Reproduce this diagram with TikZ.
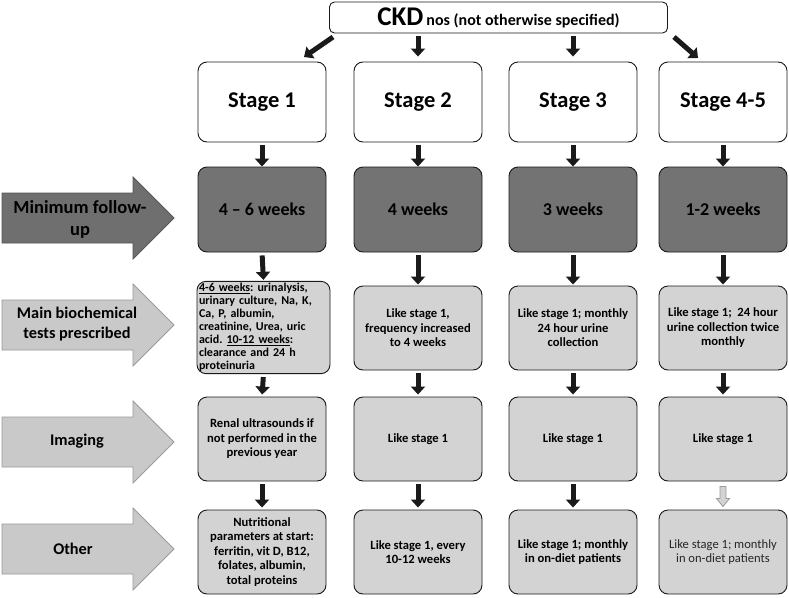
\documentclass[tikz,border=0pt]{standalone}
\usepackage{fontspec}
\setmainfont{Carlito}
\usetikzlibrary{arrows.meta}
\definecolor{darkbox}{HTML}{737373}
\definecolor{lightbox}{HTML}{D3D3D3}
\definecolor{lightarr}{HTML}{C9C9C9}
\definecolor{lightarrline}{HTML}{9A9A9A}
\definecolor{darkarr}{HTML}{6F6F6F}
\definecolor{darkarrline}{HTML}{555555}
\definecolor{ink}{HTML}{1A1A1A}
\definecolor{softtext}{HTML}{262626}
\newcommand{\sidearrow}[4]{%
  \filldraw[fill=#2, draw=#3, line width=0.8pt]
    (2,{#1-25}) -- (133,{#1-25}) -- (133,{#1-41}) -- (174,{#1}) --
    (133,{#1+41}) -- (133,{#1+25}) -- (2,{#1+25}) -- cycle;
}
\frenchspacing
\begin{document}
\begin{tikzpicture}[x=1pt,y=-1pt,
  box/.style={draw=ink, line width=0.9pt, rounded corners=9pt,
    minimum width=128pt, minimum height=84pt, align=center, inner sep=2pt,
    font=\bfseries\fontsize{12.6}{14.5}\selectfont},
  stagebox/.style={box, fill=white, minimum height=80pt,
    font=\bfseries\fontsize{22.5}{26}\selectfont},
  weekbox/.style={box, fill=darkbox, minimum height=85pt,
    font=\bfseries\fontsize{18}{20}\selectfont},
  testbox/.style={box, fill=lightbox},
  sidelabel/.style={align=center, font=\bfseries\fontsize{16.3}{20}\selectfont},
  blk/.style={draw=ink, line width=5pt, -{Triangle[width=14pt,length=8pt]},
    shorten <=3pt},
]
\useasboundingbox (0,0) rectangle (789,597);

% top box
\node[draw=ink, line width=0.9pt, rounded corners=5pt, fill=white,
  minimum width=338pt, minimum height=31pt, inner sep=0pt] (ckd) at (498.5,17.5)
  {\bfseries\fontsize{27}{28}\selectfont CKD\hspace{3pt}\fontsize{16}{18}\selectfont nos (not otherwise specified)};

% left arrows
\sidearrow{218}{darkarr}{darkarrline}{}
\sidearrow{325}{lightarr}{lightarrline}{}
\sidearrow{442}{lightarr}{lightarrline}{}
\sidearrow{549}{lightarr}{lightarrline}{}
\node[sidelabel, font=\bfseries\fontsize{18.5}{22}\selectfont] (l1) at (80,219) {Minimum follow-\\up};
\node[sidelabel] (l2) at (77,324) {Main biochemical\\tests prescribed};
\node[sidelabel] (l3) at (77,441) {Imaging};
\node[sidelabel] (l4) at (73,549) {Other};

% stage row
\node[stagebox] (s1) at (262,102) {Stage 1};
\node[stagebox] (s2) at (418,102) {Stage 2};
\node[stagebox] (s3) at (573,102) {Stage 3};
\node[stagebox] (s4) at (723,102) {Stage 4-5};

% follow-up row
\node[weekbox] (w1) at (262,209.5) {4 -- 6 weeks};
\node[weekbox] (w2) at (418,209.5) {4 weeks};
\node[weekbox] (w3) at (573,209.5) {3 weeks};
\node[weekbox] (w4) at (723,209.5) {1-2 weeks};

% tests row
\node[testbox, minimum width=133pt, minimum height=91pt, text width=129pt,
  align=left, font=\bfseries\fontsize{12}{13}\selectfont] (t1) at (263.5,327.5)
  {\underline{4-6 weeks}: urinalysis,\\urinary culture, Na, K,\\Ca, P, albumin,\\creatinine, Urea, uric\\acid. \underline{10-12 weeks}:\\clearance and 24 h\\proteinuria};
\node[testbox] (t2) at (418,328) {Like stage 1,\\frequency increased\\to 4 weeks};
\node[testbox] (t3) at (573,328) {Like stage 1; monthly\\24 hour urine\\collection};
\node[testbox] (t4) at (723,328) {Like stage 1;\ \ 24 hour\\urine collection twice\\monthly};

% imaging row
\node[testbox] (i1) at (262,439) {Renal ultrasounds if\\not performed in the\\previous year};
\node[testbox] (i2) at (418,439) {Like stage 1};
\node[testbox] (i3) at (573,439) {Like stage 1};
\node[testbox] (i4) at (723,439) {Like stage 1};

% other row
\node[testbox] (o1) at (262,552) {Nutritional\\parameters at start:\\ferritin, vit D, B12,\\folates, albumin,\\total proteins};
\node[testbox] (o2) at (418,552) {Like stage 1, every\\10-12 weeks};
\node[testbox] (o3) at (573,552) {Like stage 1; monthly\\in on-diet patients};
\node[testbox, font=\fontsize{12.6}{14.5}\selectfont, text=softtext] (o4) at (723,552) {Like stage 1; monthly\\in on-diet patients};

% top arrows
\coordinate (a1s) at (333,37);
\coordinate (a1e) at (304,57);
\coordinate (a4s) at (674,37);
\coordinate (a4e) at (698,58);
\draw[blk, shorten <=0pt] (a1s) -- (a1e);
\draw[blk, shorten >=5pt] (ckd.south -| s2.north) -- (s2.north);
\draw[blk, shorten >=5pt] (ckd.south -| s3.north) -- (s3.north);
\draw[blk, shorten <=0pt] (a4s) -- (a4e);

% column arrows
\foreach \c in {1,2,3,4}{
  \draw[blk] (s\c.south) -- (w\c.north);
  \draw[blk, shorten >=1pt] (w\c.south) -- (t\c.north);
}
\foreach \c in {1,2,3,4}{
  \draw[blk, shorten >=2pt] (t\c.south) -- (i\c.north);
}
\foreach \c in {1,2,3}{
  \draw[blk, shorten >=2pt] (i\c.south) -- (o\c.north);
}
% hollow gray arrow
\filldraw[fill=lightbox, draw=lightarrline, line width=0.8pt, shift={(o4.north)}]
  (-3,-23) -- (3,-23) -- (3,-11) -- (6.5,-11) -- (0,-3) -- (-6.5,-11) -- (-3,-11) -- cycle;
\end{tikzpicture}
\end{document}
